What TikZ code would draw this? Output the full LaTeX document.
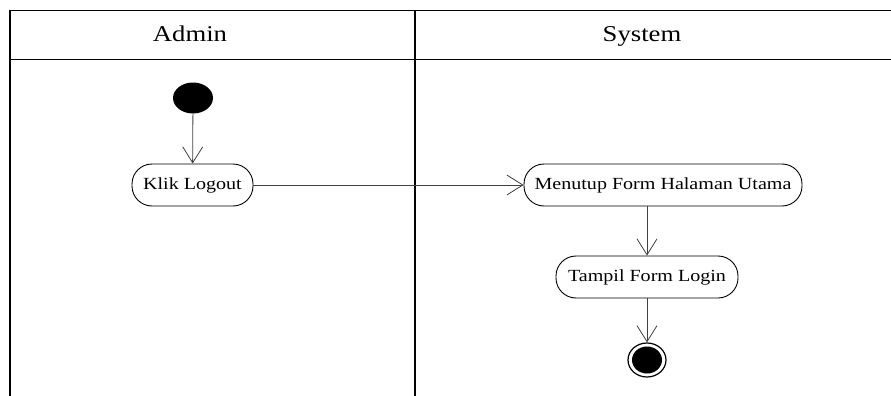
\documentclass[tikz,border=0pt]{standalone}
\usepackage{fontspec}
\setmainfont{Liberation Serif}[FakeStretch=1.18]
\usetikzlibrary{arrows.meta,shapes.geometric}
\begin{document}
\begin{tikzpicture}[x=1pt,y=-1pt,
  lane/.style={line width=1.3pt,black},
  lanetitle/.style={anchor=base,inner sep=0pt,font=\fontsize{22.6}{26}\selectfont},
  activity/.style={draw,line width=0.9pt,rounded corners=20pt,minimum height=42pt,
    inner sep=0pt,font=\fontsize{17}{20}\selectfont},
  flow/.style={draw=black!75,line width=0.8pt,
    -{Straight Barb[length=16pt,width=20pt,line width=0.8pt]}},
  startnode/.style={ellipse,fill=black,minimum width=40pt,minimum height=31pt,inner sep=0pt},
]
\useasboundingbox (0,0) rectangle (891,396);
% swimlane frame
\draw[lane] (10,396) -- (10,10.5) -- (891,10.5);
\draw[lane] (10,59.5) -- (891,59.5);
\draw[lane] (415,10.5) -- (415,396);
\node[lanetitle] (admin) at (190,41.7) {Admin};
\node[lanetitle] (system) at (642,41.7) {System};
% nodes
\node[startnode] (start) at (193,98) {};
\node[activity,minimum width=121pt] (klik) at (192.5,185) {Klik Logout};
\node[activity,minimum width=278pt] (tutup) at (663,185) {Menutup Form Halaman Utama};
\node[activity,minimum width=182pt] (tampil) at (647,277) {Tampil Form Login};
\node[draw,line width=1.2pt,ellipse,minimum width=38pt,minimum height=34pt,inner sep=0pt] (end) at (647,360) {};
\node[ellipse,fill=black,minimum width=30pt,minimum height=27pt,inner sep=0pt] (endcore) at (end.center) {};
% flows
\draw[flow] (start) -- (klik);
\draw[flow] (klik) -- (tutup);
\draw[flow] (tampil.north |- tutup.south) -- (tampil.north);
\draw[flow] (tampil) -- (end);
\end{tikzpicture}
\end{document}
